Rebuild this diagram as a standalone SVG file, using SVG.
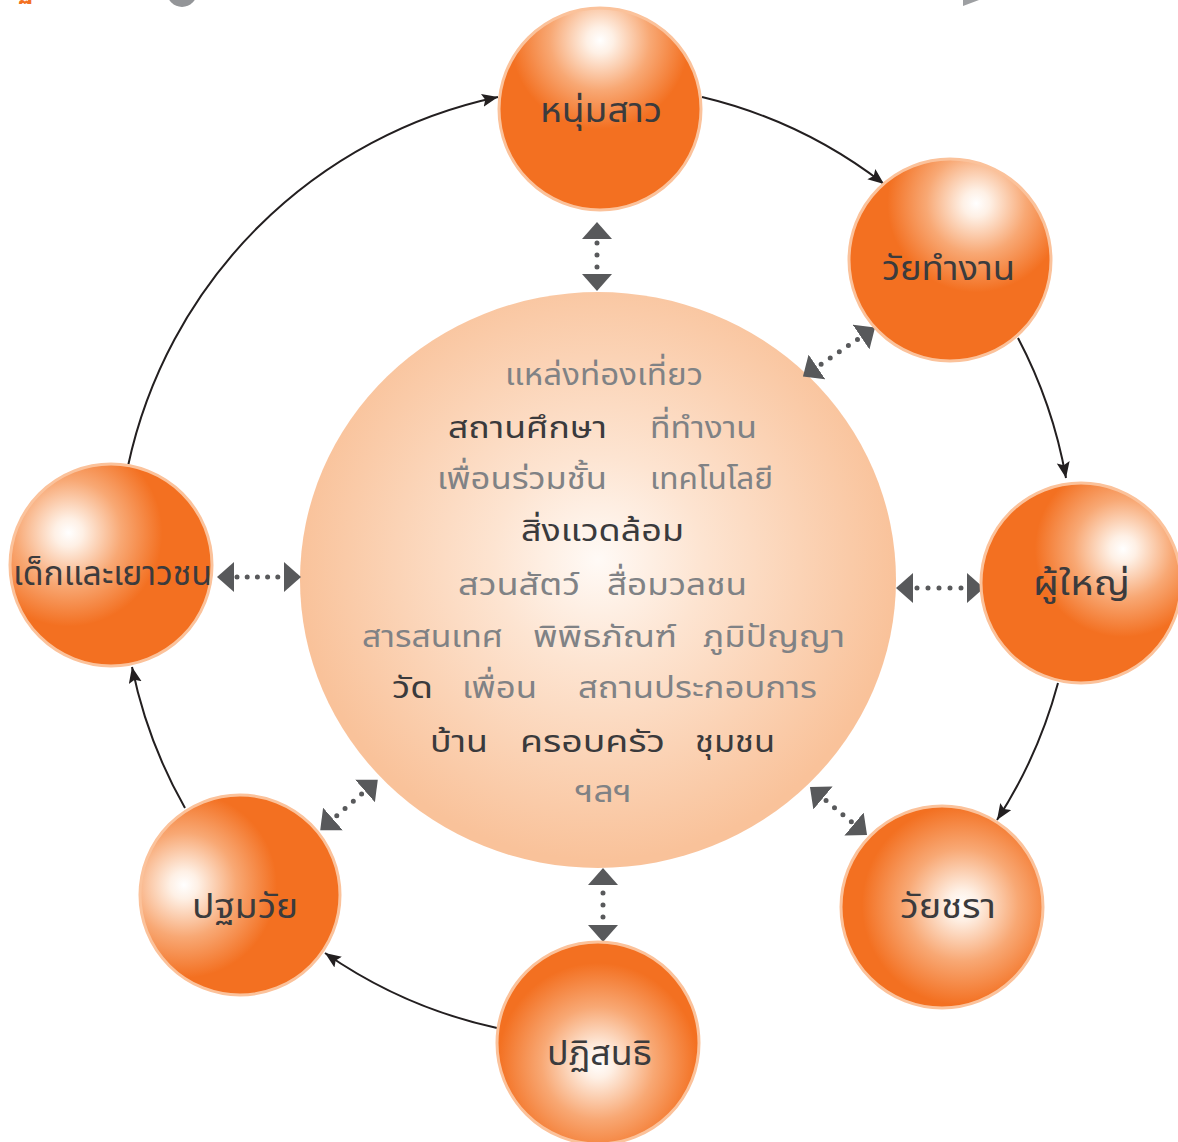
<svg xmlns="http://www.w3.org/2000/svg" width="1178" height="1142" viewBox="0 0 1178 1142">
  <style>
    text { font-family: "Noto Sans Thai", "Noto Sans Thai UI", "Noto Sans", "DejaVu Sans", sans-serif; }
    .lbl { font-size: 34px; fill: #3b3b3d; }
    .hub { font-size: 31px; }
    .dk { fill: #3a3a3c; }
    .gy { fill: #808285; }
    .ball { stroke: #fbc29b; stroke-width: 3; }
    .flow { fill: none; stroke: #231f20; stroke-width: 2; marker-end: url(#tip); }
    .link { fill: none; stroke: #58595b; stroke-width: 5; stroke-linecap: round; marker-start: url(#head); marker-end: url(#head); }
  </style>
  <defs>
    <marker id="tip" markerUnits="userSpaceOnUse" markerWidth="18" markerHeight="14" refX="16" refY="6.5" orient="auto">
      <path d="M0,0 L16,6.5 L0,13 L3,6.5 Z" fill="#231f20"/>
    </marker>
    <marker id="head" markerUnits="userSpaceOnUse" markerWidth="18" markerHeight="30" refX="0" refY="15" orient="auto-start-reverse">
      <path d="M0,0 L17,15 L0,30 Z" fill="#58595b"/>
    </marker>
    <radialGradient id="glow">
      <stop offset="0" stop-color="#ffffff"/>
      <stop offset="0.12" stop-color="#fef0e5"/>
      <stop offset="0.45" stop-color="#f8a874"/>
      <stop offset="0.8" stop-color="#f37021"/>
      <stop offset="1" stop-color="#f37021"/>
    </radialGradient>
    <radialGradient id="g1" href="#glow" cx="0.5" cy="0.16" fx="0.5" fy="0.16" r="0.55"/>
    <radialGradient id="g2" href="#glow" cx="0.63" cy="0.22" fx="0.63" fy="0.22" r="0.55"/>
    <radialGradient id="g3" href="#glow" cx="0.71" cy="0.33" fx="0.71" fy="0.33" r="0.55"/>
    <radialGradient id="g4" href="#glow" cx="0.6" cy="0.49" fx="0.6" fy="0.49" r="0.62"/>
    <radialGradient id="g5" href="#glow" cx="0.5" cy="0.6" fx="0.5" fy="0.6" r="0.62"/>
    <radialGradient id="g6" href="#glow" cx="0.22" cy="0.45" fx="0.22" fy="0.45" r="0.58"/>
    <radialGradient id="g7" href="#glow" cx="0.29" cy="0.34" fx="0.29" fy="0.34" r="0.58"/>
    <radialGradient id="hubfill" gradientUnits="userSpaceOnUse" cx="598" cy="560" r="300">
      <stop offset="0" stop-color="#fffaf6"/>
      <stop offset="0.35" stop-color="#fde4d1"/>
      <stop offset="1" stop-color="#f9c29a"/>
    </radialGradient>
  </defs>

  <rect width="1178" height="1142" fill="#ffffff"/>

  <!-- edge of the header strip above -->
  <g id="header-edge">
    <text x="18" y="-2" font-size="26" font-weight="bold" fill="#f37021">ฐ</text>
    <circle cx="182" cy="-8" r="15" fill="#939598"/>
    <polygon points="963,0 979,0 963,6" fill="#9d9fa2"/>
  </g>

  <!-- central hub with its word list -->
  <g id="hub">
    <ellipse cx="598" cy="580" rx="298" ry="288" fill="url(#hubfill)"/>
    <g class="hub">
      <text class="gy" x="505" y="385" textLength="198" lengthAdjust="spacingAndGlyphs">แหล่งท่องเที่ยว</text>
      <text class="dk" x="448" y="438" textLength="159" lengthAdjust="spacingAndGlyphs">สถานศึกษา</text>
      <text class="gy" x="650" y="438" textLength="107" lengthAdjust="spacingAndGlyphs">ที่ทำงาน</text>
      <text class="gy" x="437" y="489" textLength="170" lengthAdjust="spacingAndGlyphs">เพื่อนร่วมชั้น</text>
      <text class="gy" x="650" y="489" textLength="123" lengthAdjust="spacingAndGlyphs">เทคโนโลยี</text>
      <text class="dk" x="521" y="541" textLength="163" lengthAdjust="spacingAndGlyphs">สิ่งแวดล้อม</text>
      <text class="gy" x="458" y="595" textLength="122" lengthAdjust="spacingAndGlyphs">สวนสัตว์</text>
      <text class="gy" x="607" y="595" textLength="140" lengthAdjust="spacingAndGlyphs">สื่อมวลชน</text>
      <text class="gy" x="362" y="647" textLength="141" lengthAdjust="spacingAndGlyphs">สารสนเทศ</text>
      <text class="gy" x="533" y="647" textLength="144" lengthAdjust="spacingAndGlyphs">พิพิธภัณฑ์</text>
      <text class="gy" x="703" y="647" textLength="142" lengthAdjust="spacingAndGlyphs">ภูมิปัญญา</text>
      <text class="dk" x="392" y="698" textLength="41" lengthAdjust="spacingAndGlyphs">วัด</text>
      <text class="gy" x="462" y="698" textLength="75" lengthAdjust="spacingAndGlyphs">เพื่อน</text>
      <text class="gy" x="578" y="698" textLength="239" lengthAdjust="spacingAndGlyphs">สถานประกอบการ</text>
      <text class="dk" x="430" y="752" textLength="58" lengthAdjust="spacingAndGlyphs">บ้าน</text>
      <text class="dk" x="520" y="752" textLength="145" lengthAdjust="spacingAndGlyphs">ครอบครัว</text>
      <text class="dk" x="695" y="752" textLength="80" lengthAdjust="spacingAndGlyphs">ชุมชน</text>
      <text class="gy" x="575" y="802" textLength="57" lengthAdjust="spacingAndGlyphs">ฯลฯ</text>
    </g>
  </g>

  <!-- connectors: life-cycle arcs and dotted two-way links to the hub -->
  <g id="connectors">
    <path class="flow" d="M128,466 A480,480 0 0 1 498,97"/>
    <path class="flow" d="M702,97 A480,480 0 0 1 884,184"/>
    <path class="flow" d="M1018,338 A480,480 0 0 1 1066,478"/>
    <path class="flow" d="M1058,683 A480,480 0 0 1 997,820"/>
    <path class="flow" d="M497,1028 A480,480 0 0 1 325,953"/>
    <path class="flow" d="M185,808 A480,480 0 0 1 132,667"/>

    <line class="link" x1="597" y1="239" x2="597" y2="274" stroke-dasharray="0 12" stroke-dashoffset="-4"/>
    <line class="link" x1="817" y1="367" x2="861" y2="337" stroke-dasharray="0 11" stroke-dashoffset="-5"/>
    <line class="link" x1="913" y1="588" x2="967" y2="588" stroke-dasharray="0 11" stroke-dashoffset="-4"/>
    <line class="link" x1="823" y1="798" x2="854" y2="824" stroke-dasharray="0 11" stroke-dashoffset="-4"/>
    <line class="link" x1="603" y1="885" x2="603" y2="925" stroke-dasharray="0 12" stroke-dashoffset="-8"/>
    <line class="link" x1="333" y1="819" x2="365" y2="791" stroke-dasharray="0 11" stroke-dashoffset="-5"/>
    <line class="link" x1="234" y1="577" x2="284" y2="577" stroke-dasharray="0 10.2" stroke-dashoffset="-3"/>
  </g>

  <!-- life stages -->
  <g id="youth">
    <circle class="ball" cx="600" cy="109" r="101" fill="url(#g1)"/>
    <text class="lbl" x="540" y="122" textLength="122" lengthAdjust="spacingAndGlyphs">หนุ่มสาว</text>
  </g>
  <g id="working-age">
    <circle class="ball" cx="950" cy="260" r="101" fill="url(#g2)"/>
    <text class="lbl" x="882" y="280" textLength="133" lengthAdjust="spacingAndGlyphs">วัยทำงาน</text>
  </g>
  <g id="adult">
    <circle class="ball" cx="1081" cy="583" r="100" fill="url(#g3)"/>
    <text class="lbl" x="1033" y="595" textLength="97" lengthAdjust="spacingAndGlyphs">ผู้ใหญ่</text>
  </g>
  <g id="elderly">
    <circle class="ball" cx="942" cy="907" r="101" fill="url(#g4)"/>
    <text class="lbl" x="900" y="918" textLength="96" lengthAdjust="spacingAndGlyphs">วัยชรา</text>
  </g>
  <g id="conception">
    <circle class="ball" cx="598" cy="1043" r="101" fill="url(#g5)"/>
    <text class="lbl" x="547" y="1065" textLength="105" lengthAdjust="spacingAndGlyphs">ปฏิสนธิ</text>
  </g>
  <g id="early-childhood">
    <circle class="ball" cx="240" cy="895" r="100" fill="url(#g6)"/>
    <text class="lbl" x="192" y="918" textLength="106" lengthAdjust="spacingAndGlyphs">ปฐมวัย</text>
  </g>
  <g id="children-youth">
    <circle class="ball" cx="111" cy="565" r="101" fill="url(#g7)"/>
    <text class="lbl" x="13" y="585" textLength="199" lengthAdjust="spacingAndGlyphs">เด็กและเยาวชน</text>
  </g>
</svg>
